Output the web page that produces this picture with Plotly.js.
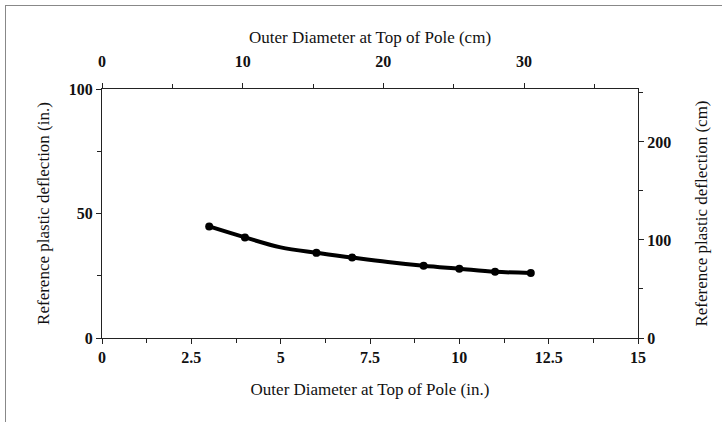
<!DOCTYPE html>
<html>
<head>
<meta charset="utf-8">
<script src="https://cdn.plot.ly/plotly-3.0.1.min.js"></script>
<style>
  html, body { margin: 0; padding: 0; background: #fff; }
  #wrap { position: relative; width: 722px; height: 422px; }
  #chart { width: 722px; height: 422px; }
  #frame { position: absolute; left: 5px; top: 5px; width: 717px; height: 417px;
           border-left: 1px solid #888; border-top: 1px solid #888; pointer-events: none; }
</style>
</head>
<body>
<div id="wrap">
  <div id="chart"></div>
  <div id="frame"></div>
</div>
<script>
// Curve through the data (inches)
const curveDiameterIn = [3, 4, 5, 6, 7, 8, 9, 10, 11, 12];
const curveDeflectionIn = [44.8, 40.4, 36.4, 34.2, 32.3, 30.5, 29.0, 27.8, 26.6, 26.1];
// Marked points (inches)
const pointDiameterIn = [3, 4, 6, 7, 9, 10, 11, 12];
const pointDeflectionIn = [44.8, 40.4, 34.2, 32.3, 29.0, 27.8, 26.6, 26.1];

const IN_TO_CM = 2.54;

const tickFont = { family: 'Liberation Serif', size: 16, color: '#111', weight: 'bold' };
const titleFont = { family: 'Liberation Serif', size: 17, color: '#111' };
const lineCol = '#222';

const traces = [
  {
    x: curveDiameterIn, y: curveDeflectionIn,
    type: 'scatter', mode: 'lines',
    line: { color: '#000', width: 4, shape: 'spline' },
    hoverinfo: 'skip', showlegend: false
  },
  {
    x: pointDiameterIn, y: pointDeflectionIn,
    type: 'scatter', mode: 'markers',
    marker: { color: '#000', size: 8 },
    showlegend: false
  },
  {
    x: pointDiameterIn.map(v => v * IN_TO_CM),
    y: pointDeflectionIn.map(v => v * IN_TO_CM),
    xaxis: 'x2', yaxis: 'y2',
    type: 'scatter', mode: 'markers',
    marker: { opacity: 0 }, hoverinfo: 'skip', showlegend: false
  }
];

const common = {
  showline: true, linecolor: lineCol, linewidth: 1,
  ticks: 'outside', ticklen: 5, tickcolor: lineCol, tickwidth: 1,
  showgrid: false, zeroline: false, tickfont: tickFont,
  fixedrange: true
};

const layout = {
  width: 722, height: 422,
  margin: { l: 102, r: 84, t: 89, b: 84 },
  paper_bgcolor: '#fff', plot_bgcolor: '#fff',
  font: { family: 'Liberation Serif', color: '#111' },
  xaxis: Object.assign({}, common, {
    range: [0, 15], dtick: 2.5, tick0: 0,
    minor: { dtick: 1.25, ticks: 'outside', ticklen: 4, tickcolor: lineCol },
    title: { text: 'Outer Diameter at Top of Pole (in.)', font: titleFont, standoff: 17 }
  }),
  xaxis2: Object.assign({}, common, {
    overlaying: 'x', side: 'top', anchor: 'y',
    range: [0, 15 * IN_TO_CM], dtick: 10, tick0: 0, ticklen: 5,
    ticklabelstandoff: 10,
    minor: { dtick: 5, ticks: 'outside', ticklen: 4, tickcolor: lineCol },
    title: { text: 'Outer Diameter at Top of Pole (cm)', font: titleFont, standoff: 4 }
  }),
  yaxis: Object.assign({}, common, {
    range: [0, 100], dtick: 50, tick0: 0,
    minor: { dtick: 25, ticks: 'outside', ticklen: 4, tickcolor: lineCol },
    title: { text: 'Reference plastic deflection (in.)', font: titleFont, standoff: 14 }
  }),
  yaxis2: Object.assign({}, common, {
    overlaying: 'y', side: 'right', anchor: 'x',
    range: [0, 100 * IN_TO_CM], dtick: 100, tick0: 0,
    minor: { dtick: 50, ticks: 'outside', ticklen: 4, tickcolor: lineCol },
    title: { text: 'Reference plastic deflection (cm)', font: titleFont, standoff: 24 }
  })
};

Plotly.newPlot('chart', traces, layout, { displayModeBar: false, staticPlot: true });
</script>
</body>
</html>
